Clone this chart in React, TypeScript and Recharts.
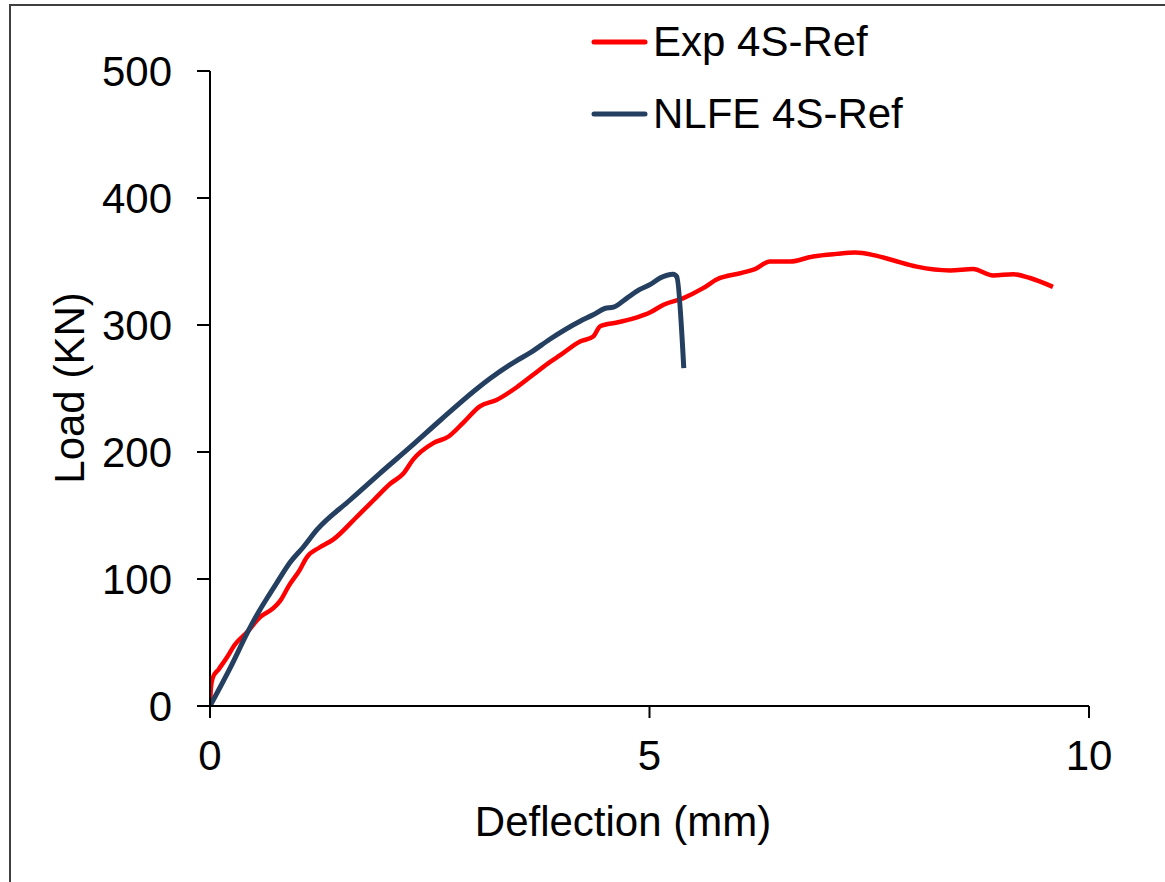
import React from "react";
import { LineChart, Line, XAxis, YAxis, Legend } from "recharts";

// Exp 4S-Ref
const expDeflection = [
  0, 0.01, 0.03, 0.1, 0.19, 0.28, 0.42, 0.57, 0.72, 0.8, 0.9, 1.02, 1.1, 1.25,
  1.4, 1.67, 1.86, 2.05, 2.2, 2.31, 2.54, 2.71, 2.88, 3.07, 3.26, 3.49, 3.68,
  3.87, 3.98, 4.21, 4.36, 4.44, 4.63, 4.86, 5.01, 5.16, 5.38, 5.61, 5.77, 6.05,
  6.2, 6.37, 6.6, 6.86, 7.13, 7.34, 7.55, 7.77, 8.04, 8.42, 8.68, 8.91, 9.14,
  9.33, 9.59,
];
const expLoad = [
  0, 14, 22, 29, 38, 48, 58, 70, 77, 83, 95, 107, 117, 125, 131, 149, 162, 175,
  183, 194, 207, 212, 223, 236, 241, 251, 261, 271, 276, 287, 291, 299, 302,
  306, 310, 316, 321, 329, 336, 341, 344, 350, 350, 354, 356, 357, 355, 351,
  346, 343, 344, 339, 340, 337, 330,
];

// NLFE 4S-Ref
const nlfeDeflection = [
  0, 0.23, 0.42, 0.57, 0.65, 0.76, 0.91, 1.06, 1.22, 1.59, 1.93, 2.28, 2.62,
  3.04, 3.19, 3.49, 3.64, 3.87, 4.21, 4.36, 4.49, 4.59, 4.74, 4.89, 5.01, 5.12,
  5.27, 5.31, 5.39,
];
const nlfeLoad = [
  0, 30, 57, 76, 85, 97, 113, 125, 139, 162, 183, 204, 225, 250, 258, 272, 278,
  289, 303, 308, 313, 314, 321, 328, 332, 337, 340, 338, 266,
];

const xTicks = [0, 5, 10];
const yTicks = [0, 100, 200, 300, 400, 500];

const expData = expDeflection.map((x, i) => ({ x, load: expLoad[i] }));
const nlfeData = nlfeDeflection.map((x, i) => ({ x, load: nlfeLoad[i] }));

const FONT = "'Liberation Sans', Arial, sans-serif";
const RED = "#FF0000";
const NAVY = "#243F60";

const legendItems = [
  { name: "Exp 4S-Ref", color: RED },
  { name: "NLFE 4S-Ref", color: NAVY },
];

const renderLegend = () => (
  <svg
    width={1165}
    height={150}
    style={{ display: "block", overflow: "visible" }}
  >
    {legendItems.map((item, i) => (
      <g key={item.name}>
        <line
          x1={594}
          x2={645}
          y1={42 + i * 72}
          y2={42 + i * 72}
          stroke={item.color}
          strokeWidth={5}
          strokeLinecap="round"
        />
        <text
          x={653}
          y={56 + i * 72}
          fontSize={42}
          fontFamily={FONT}
          fill="#000"
        >
          {item.name}
        </text>
      </g>
    ))}
  </svg>
);

export default function App() {
  const tickStyle = { fontSize: 42, fontFamily: FONT, fill: "#000" };
  return (
    <div
      style={{
        position: "fixed",
        left: 0,
        top: 0,
        width: 1165,
        height: 882,
        overflow: "hidden",
        background: "#fff",
      }}
    >
      <div
        style={{
          position: "absolute",
          left: 9,
          top: 4,
          width: 2000,
          height: 2000,
          borderLeft: "2px solid #404040",
          borderTop: "2px solid #404040",
        }}
      />
      <div style={{ position: "absolute", left: 0, top: 0 }}>
        <LineChart
          width={1165}
          height={882}
          margin={{ top: 71, right: 76, bottom: 0, left: 0 }}
        >
          <XAxis
            dataKey="x"
            type="number"
            domain={[0, 10]}
            ticks={xTicks}
            allowDataOverflow
            height={176}
            tick={tickStyle}
            tickSize={12}
            tickMargin={22}
            stroke="#000"
            strokeWidth={2}
            label={{
              content: () => (
                <text
                  x={623}
                  y={836}
                  textAnchor="middle"
                  fontSize={42}
                  fontFamily={FONT}
                  fill="#000"
                >
                  Deflection (mm)
                </text>
              ),
            }}
          />
          <YAxis
            type="number"
            domain={[0, 500]}
            ticks={yTicks}
            width={210}
            tick={tickStyle}
            tickSize={13}
            tickMargin={25}
            stroke="#000"
            strokeWidth={2}
            label={{
              content: () => (
                <text
                  x={0}
                  y={0}
                  transform="translate(84,388) rotate(-90)"
                  textAnchor="middle"
                  fontSize={42}
                  fontFamily={FONT}
                  fill="#000"
                >
                  Load (KN)
                </text>
              ),
            }}
          />
          <Legend
            layout="vertical"
            align="center"
            verticalAlign="middle"
            content={renderLegend}
            wrapperStyle={{
              position: "absolute",
              left: 0,
              top: 0,
              width: 1165,
              height: 0,
              overflow: "visible",
            }}
          />
          <Line
            data={expData}
            dataKey="load"
            name="Exp 4S-Ref"
            type="monotone"
            stroke={RED}
            strokeWidth={4.5}
            dot={false}
            isAnimationActive={false}
          />
          <Line
            data={nlfeData}
            dataKey="load"
            name="NLFE 4S-Ref"
            type="monotone"
            stroke={NAVY}
            strokeWidth={5}
            dot={false}
            isAnimationActive={false}
          />
        </LineChart>
      </div>
    </div>
  );
}
